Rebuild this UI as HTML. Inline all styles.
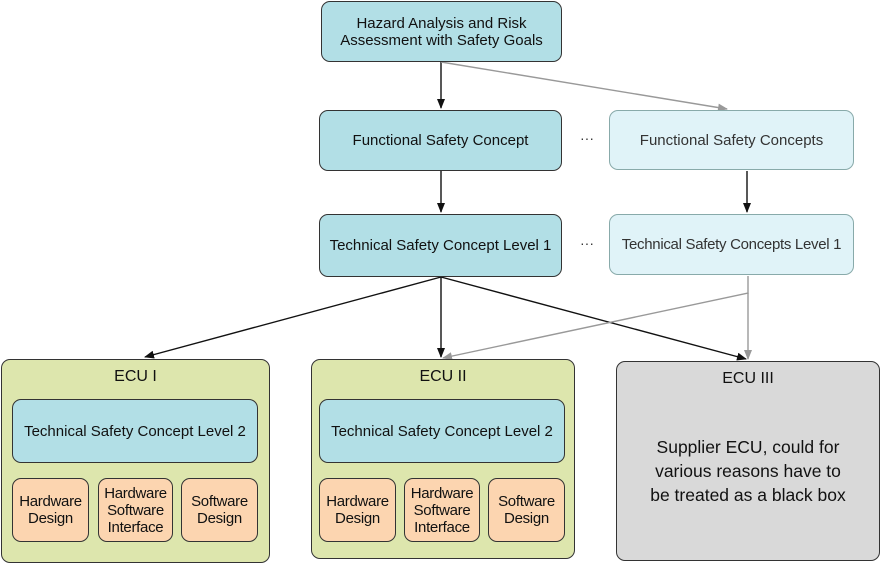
<!DOCTYPE html>
<html><head><style>
body{margin:0;width:880px;height:563px;background:#fff;position:relative;font-family:"Liberation Sans",sans-serif;overflow:hidden}
.b{position:absolute;box-sizing:border-box;border:1.3px solid #333;border-radius:9px;display:flex;align-items:center;justify-content:center;text-align:center;color:#111;font-size:15px;line-height:17px;white-space:nowrap}
.bl{background:#b2dfe6}
.lb{background:#e0f3f8;border-color:#8aa;color:#333}
.g{background:#dde6ad;align-items:flex-start;padding-top:8px;font-size:16px}
.o{background:#fcd5b0;font-size:15px;line-height:17px;letter-spacing:-0.3px}
.gr{background:#d9d9d9;flex-direction:column;justify-content:flex-start;padding-top:8px;font-size:16px}
.dots{position:absolute;font-size:14px;color:#333}
</style></head><body>
<svg width="880" height="563" style="position:absolute;left:0;top:0">
<defs>
<marker id="a" markerWidth="10" markerHeight="10" refX="9" refY="5" orient="auto" markerUnits="userSpaceOnUse"><path d="M0,1 L10,5 L0,9z" fill="#111"/></marker>
<marker id="g" markerWidth="10" markerHeight="10" refX="9" refY="5" orient="auto" markerUnits="userSpaceOnUse"><path d="M0,1 L10,5 L0,9z" fill="#999"/></marker>
</defs>
<g stroke="#111" stroke-width="1.4" fill="none">
<line x1="441" y1="61" x2="441" y2="108" marker-end="url(#a)"/>
<line x1="441" y1="171" x2="441" y2="212" marker-end="url(#a)"/>
<line x1="747" y1="171" x2="747" y2="212" marker-end="url(#a)"/>
<line x1="441" y1="277" x2="145" y2="357" marker-end="url(#a)"/>
<line x1="441" y1="277" x2="441" y2="357" marker-end="url(#a)"/>
<line x1="441" y1="277" x2="746" y2="359" marker-end="url(#a)"/>
</g>
<g stroke="#999" stroke-width="1.4" fill="none">
<line x1="441" y1="62" x2="727" y2="109" marker-end="url(#g)"/>
<polyline points="748,276 748,293 443,358" marker-end="url(#g)"/>
<line x1="748" y1="293" x2="748" y2="359" marker-end="url(#g)"/>
</g>
</svg>
<div class="b bl" style="left:321px;top:1px;width:241px;height:61px">Hazard Analysis and Risk<br>Assessment with Safety Goals</div>
<div class="b bl" style="left:319px;top:110px;width:243px;height:61px">Functional Safety Concept</div>
<div class="b lb" style="left:609px;top:110px;width:245px;height:60px">Functional Safety Concepts</div>
<div class="b bl" style="left:319px;top:214px;width:243px;height:63px">Technical Safety Concept Level 1</div>
<div class="b lb" style="left:609px;top:214px;width:245px;height:61px;letter-spacing:-0.3px">Technical Safety Concepts Level 1</div>
<div class="dots" style="left:580px;top:130px">···</div>
<div class="dots" style="left:580px;top:235px">···</div>

<div class="b g" style="left:1px;top:359px;width:269px;height:204px">ECU I</div>
<div class="b bl" style="left:12px;top:399px;width:246px;height:64px">Technical Safety Concept Level 2</div>
<div class="b o" style="left:12px;top:478px;width:77px;height:64px">Hardware<br>Design</div>
<div class="b o" style="left:98px;top:478px;width:75px;height:64px">Hardware<br>Software<br>Interface</div>
<div class="b o" style="left:181px;top:478px;width:77px;height:64px">Software<br>Design</div>

<div class="b g" style="left:311px;top:359px;width:264px;height:200px">ECU II</div>
<div class="b bl" style="left:319px;top:399px;width:246px;height:64px">Technical Safety Concept Level 2</div>
<div class="b o" style="left:319px;top:478px;width:77px;height:64px">Hardware<br>Design</div>
<div class="b o" style="left:404px;top:478px;width:76px;height:64px">Hardware<br>Software<br>Interface</div>
<div class="b o" style="left:488px;top:478px;width:77px;height:64px">Software<br>Design</div>

<div class="b gr" style="left:616px;top:361px;width:264px;height:200px"><div>ECU III</div><div style="margin-top:48px;line-height:24px;font-size:17.5px">Supplier ECU, could for<br>various reasons have to<br>be treated as a black box</div></div>
</body></html>
